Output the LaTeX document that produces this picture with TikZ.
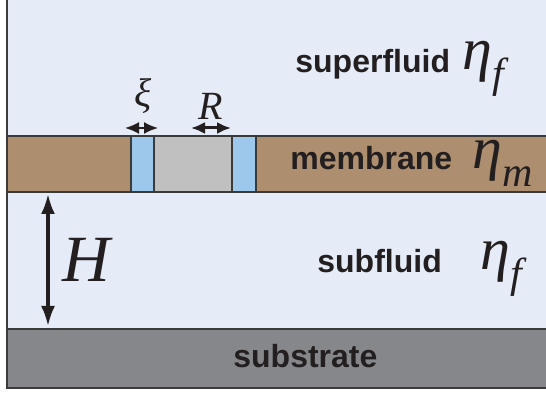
\documentclass[tikz,border=0pt]{standalone}
\usepackage{fontspec}
\setmainfont{Liberation Sans}
\newfontfamily\symfont{Liberation Serif}
\usetikzlibrary{arrows.meta}
\definecolor{FontColor}{HTML}{231F20}
\definecolor{FluidBlue}{HTML}{E5ECF7}
\definecolor{MembraneBrown}{HTML}{AD8F6F}
\definecolor{LipidBlue}{HTML}{9DC8EC}
\definecolor{ProteinGray}{HTML}{C0C0C0}
\definecolor{SubstrateGray}{HTML}{86878B}
\definecolor{EdgeGray}{HTML}{3A3A3A}
\newcommand\txtsup{superfluid}
\newcommand\txtmem{membrane}
\newcommand\txtsub{subfluid}
\newcommand\txtbase{substrate}
\newcommand\visc[1]{{\symfont\itshape\fontsize{30}{30}\selectfont η}\raisebox{-9pt}{\symfont\itshape\fontsize{21}{21}\selectfont #1}}
\tikzstyle{word} = [anchor=base west, inner sep=0pt, text=FontColor, font=\fontsize{16}{16}\selectfont\bfseries]
\tikzstyle{sym} = [anchor=base west, inner sep=0pt, text=FontColor]
\tikzstyle{dimlabel} = [inner sep=0pt, text=FontColor, font=\symfont\itshape]
\tikzstyle{layer} = [draw=EdgeGray, line width=0.8pt]
\tikzset{>={Latex[length=7pt,width=6pt]}, every picture/.style={x=0.5pt, y=-0.5pt}}
\begin{document}
\begin{tikzpicture}
\useasboundingbox (0,0) rectangle (546,394);
% fluid and layers
\fill[FluidBlue] (7,0) rectangle (546,329);
\fill[MembraneBrown] (7,136) rectangle (560,192);
\draw[layer] (7,136) -- (560,136);
\draw[layer] (7,192) -- (560,192);
\filldraw[layer, fill=LipidBlue] (131,136) rectangle (154,192);
\filldraw[layer, fill=ProteinGray] (154,136) rectangle (232,192);
\filldraw[layer, fill=LipidBlue] (232,136) rectangle (256,192);
\filldraw[layer, fill=SubstrateGray] (6.5,329) rectangle (560,388);
\draw[EdgeGray, line width=1pt] (6.5,0) -- (6.5,388);
% labels
\node[word] (sup) at (295,73) {\txtsup};
\node[sym] (etasup) at (462,70) {\visc{f}};
\node[word] (mem) at (290,170) {\txtmem};
\node[sym] (etamem) at (472,169) {\visc{m}};
\node[word] (sub) at (317,273) {\txtsub};
\node[sym] (etasub) at (480,270) {\visc{f}};
\node[word] (base) at (233,368) {\txtbase};
% dimensions
\coordinate (hTop) at (48,194);
\coordinate (hBot) at (48,326);
\coordinate (xiL) at (125,128);
\coordinate (xiR) at (158,128);
\coordinate (rL) at (191,128);
\coordinate (rR) at (231,128);
\draw[<->, FontColor, line width=1.6pt, >={Latex[length=10pt,width=7pt]}] (hTop) -- (hBot);
\draw[<->, FontColor, line width=1pt] (xiL) -- (xiR);
\draw[<->, FontColor, line width=1.5pt] (rL) -- (rR);
\node[dimlabel, font=\symfont\itshape\fontsize{33}{33}\selectfont] (hlab) at (86,260) {H};
\node[dimlabel, font=\symfont\itshape\fontsize{20}{20}\selectfont] (xilab) at (143,96) {ξ};
\node[dimlabel, font=\symfont\itshape\fontsize{20}{20}\selectfont] (rlab) at (211,106) {R};
\end{tikzpicture}
\end{document}
